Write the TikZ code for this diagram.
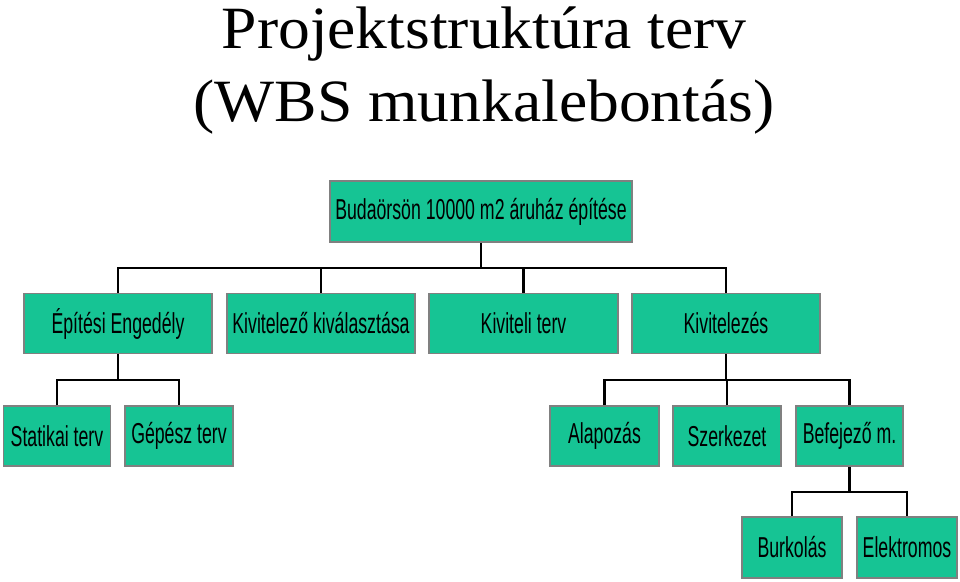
\documentclass[tikz,border=0pt]{standalone}
\usepackage{fontspec}
\setmainfont{Liberation Serif}
\newfontfamily\titlefont[FakeStretch=1.06]{Liberation Serif}
\newfontfamily\narrowfont[FakeStretch=0.615]{Liberation Sans}
\definecolor{boxgreen}{RGB}{22,196,148}
\definecolor{boxedge}{RGB}{128,128,128}
\begin{document}
\begin{tikzpicture}[x=1pt,y=-1pt,
  wbs/.style={draw=boxedge,line width=1.8pt,fill=boxgreen,inner sep=0pt,
    minimum height=60pt,font=\narrowfont\fontsize{28.8}{32}\selectfont,text=black},
  ttl/.style={anchor=base,inner sep=0pt,font=\titlefont\fontsize{60}{66}\selectfont},
  conn/.style={line width=2.5pt,black}]
\useasboundingbox (0,0) rectangle (960,581);
\node[ttl] (t1) at (484,48) {Projektstruktúra terv};
\node[ttl] (t2) at (484,121) {(WBS munkalebontás)};

\node[wbs,minimum width=302pt,minimum height=61pt] (root) at (481,211.5) {Budaörsön 10000 m2 áruház építése};
\node[wbs,minimum width=188pt] (epit) at (118,323.5) {Építési Engedély};
\node[wbs,minimum width=188pt] (kivv) at (321,323.5) {Kivitelező kiválasztása};
\node[wbs,minimum width=189pt] (kivt) at (523.5,323.5) {Kiviteli terv};
\node[wbs,minimum width=188pt] (kivz) at (726,323.5) {Kivitelezés};
\node[wbs,minimum width=107pt] (stat) at (57,436) {Statikai terv};
\node[wbs,minimum width=108pt] (gep) at (179,436) {Gépész terv};
\node[wbs,minimum width=109pt] (alap) at (604.5,436) {Alapozás};
\node[wbs,minimum width=108pt] (szer) at (727,436) {Szerkezet};
\node[wbs,minimum width=107pt] (bef) at (849.5,436) {Befejező m.};
\node[wbs,minimum width=100pt,minimum height=61pt] (burk) at (792,547.5) {Burkolás};
\node[wbs,minimum width=100pt,minimum height=61pt] (elek) at (907,547.5) {Elektromos};

\coordinate (j1) at (481,268);
\coordinate (j2) at (118,380);
\coordinate (j3) at (726,380);
\coordinate (j4) at (849.5,492);

\draw[conn] (root.south) -- (j1);
\draw[conn] (epit.north) -- (epit.north|-j1) -- (kivz.north|-j1) -- (kivz.north);
\draw[conn] (kivv.north) -- (kivv.north|-j1);
\draw[conn] (kivt.north) -- (kivt.north|-j1);

\draw[conn] (epit.south) -- (j2);
\draw[conn] (stat.north) -- (stat.north|-j2) -- (gep.north|-j2) -- (gep.north);

\draw[conn] (kivz.south) -- (j3);
\draw[conn] (alap.north) -- (alap.north|-j3) -- (bef.north|-j3) -- (bef.north);
\draw[conn] (szer.north) -- (szer.north|-j3);

\draw[conn] (bef.south) -- (j4);
\draw[conn] (burk.north) -- (burk.north|-j4) -- (elek.north|-j4) -- (elek.north);
\end{tikzpicture}
\end{document}
